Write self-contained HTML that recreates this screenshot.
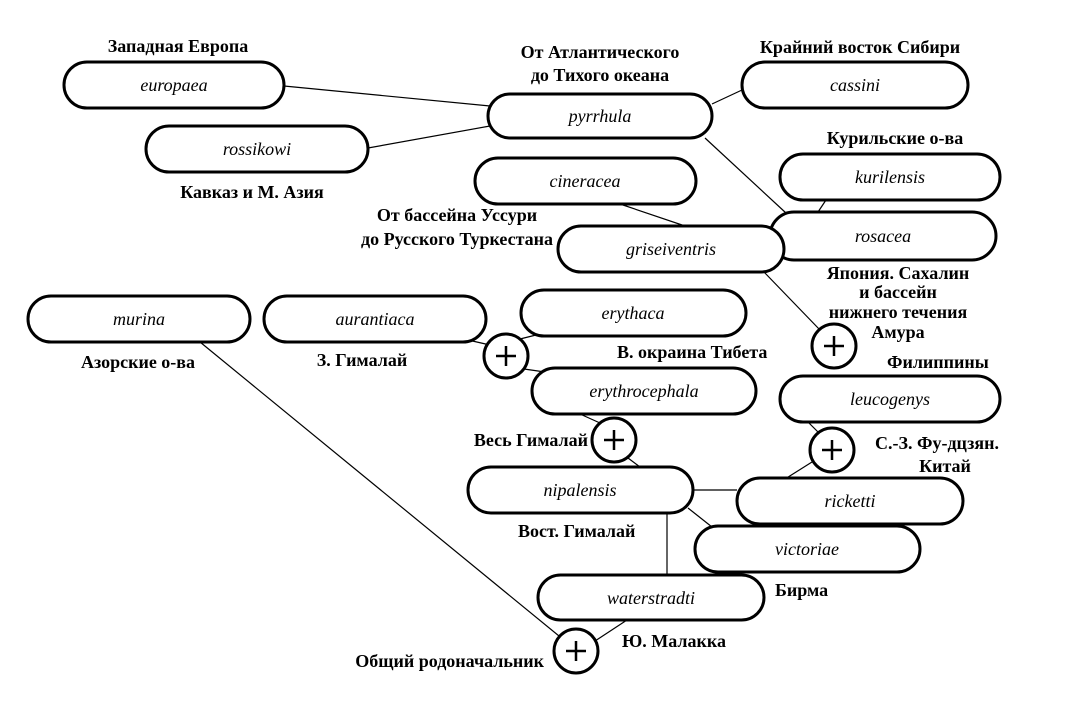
<!DOCTYPE html>
<html><head><meta charset="utf-8"><style>body{margin:0;background:#fff}svg{display:block}</style></head>
<body>
<svg width="1069" height="709" viewBox="0 0 1069 709" xmlns="http://www.w3.org/2000/svg" font-family="Liberation Serif, serif">
<g stroke="#000" stroke-width="1.2" fill="none">
<line x1="284" y1="86" x2="490" y2="106"/>
<line x1="368" y1="148" x2="490" y2="126"/>
<line x1="712" y1="104" x2="742" y2="90"/>
<line x1="705" y1="138" x2="786" y2="213"/>
<line x1="620" y1="204" x2="688" y2="227"/>
<line x1="826" y1="200" x2="818" y2="212"/>
<line x1="764" y1="272" x2="820" y2="330"/>
<line x1="468" y1="340" x2="490" y2="345"/>
<line x1="520" y1="339" x2="540" y2="334"/>
<line x1="524" y1="369" x2="545" y2="372"/>
<line x1="580" y1="414" x2="600" y2="423"/>
<line x1="628" y1="458" x2="640" y2="467"/>
<line x1="808" y1="422" x2="818" y2="432"/>
<line x1="812" y1="462" x2="785" y2="479"/>
<line x1="693" y1="490" x2="737" y2="490"/>
<line x1="688" y1="508" x2="712" y2="527"/>
<line x1="667" y1="513" x2="667" y2="575"/>
<line x1="627" y1="620" x2="592" y2="643"/>
<line x1="200" y1="342" x2="559" y2="636"/>
</g>
<g stroke="#000" stroke-width="3" fill="#fff">
<rect x="64" y="62" width="220" height="46" rx="23"/>
<rect x="146" y="126" width="222" height="46" rx="23"/>
<rect x="488" y="94" width="224" height="44" rx="22"/>
<rect x="742" y="62" width="226" height="46" rx="23"/>
<rect x="475" y="158" width="221" height="46" rx="23"/>
<rect x="780" y="154" width="220" height="46" rx="23"/>
<rect x="770" y="212" width="226" height="48" rx="24"/>
<rect x="558" y="226" width="226" height="46" rx="23"/>
<rect x="28" y="296" width="222" height="46" rx="23"/>
<rect x="264" y="296" width="222" height="46" rx="23"/>
<rect x="521" y="290" width="225" height="46" rx="23"/>
<rect x="532" y="368" width="224" height="46" rx="23"/>
<rect x="780" y="376" width="220" height="46" rx="23"/>
<rect x="468" y="467" width="225" height="46" rx="23"/>
<rect x="737" y="478" width="226" height="46" rx="23"/>
<rect x="695" y="526" width="225" height="46" rx="23"/>
<rect x="538" y="575" width="226" height="45" rx="22.5"/>
<circle cx="506" cy="356" r="22"/>
<circle cx="614" cy="440" r="22"/>
<circle cx="834" cy="346" r="22"/>
<circle cx="832" cy="450" r="22"/>
<circle cx="576" cy="651" r="22"/>
</g>
<g stroke="#000" stroke-width="2.5">
<path d="M496 356h20M506 346v20"/>
<path d="M604 440h20M614 430v20"/>
<path d="M824 346h20M834 336v20"/>
<path d="M822 450h20M832 440v20"/>
<path d="M566 651h20M576 641v20"/>
</g>
<g font-style="italic" font-size="18" text-anchor="middle">
<text x="174" y="91">europaea</text>
<text x="257" y="155">rossikowi</text>
<text x="600" y="122">pyrrhula</text>
<text x="855" y="91">cassini</text>
<text x="585" y="187">cineracea</text>
<text x="890" y="183">kurilensis</text>
<text x="883" y="242">rosacea</text>
<text x="671" y="255">griseiventris</text>
<text x="139" y="325">murina</text>
<text x="375" y="325">aurantiaca</text>
<text x="633" y="319">erythaca</text>
<text x="644" y="397">erythrocephala</text>
<text x="890" y="405">leucogenys</text>
<text x="580" y="496">nipalensis</text>
<text x="850" y="507">ricketti</text>
<text x="807" y="555">victoriae</text>
<text x="651" y="604">waterstradti</text>
</g>
<g font-size="18" font-weight="bold" text-anchor="middle">
<text x="178" y="52">Западная Европа</text>
<text x="600" y="58">От Атлантического</text>
<text x="600" y="81">до Тихого океана</text>
<text x="860" y="53">Крайний восток Сибири</text>
<text x="252" y="198">Кавказ и М. Азия</text>
<text x="895" y="144">Курильские о-ва</text>
<text x="457" y="221">От бассейна Уссури</text>
<text x="457" y="245">до Русского Туркестана</text>
<text x="898" y="279">Япония. Сахалин</text>
<text x="898" y="298">и бассейн</text>
<text x="898" y="318">нижнего течения</text>
<text x="898" y="338">Амура</text>
<text x="138" y="368">Азорские о-ва</text>
<text x="362" y="366">З. Гималай</text>
<text x="937" y="449">С.-З. Фу-дцзян.</text>
<text x="945" y="472">Китай</text>
</g>
<g font-size="18" font-weight="bold">
<text x="617" y="358">В. окраина Тибета</text>
<text x="887" y="368">Филиппины</text>
<text x="588" y="446" text-anchor="end">Весь Гималай</text>
<text x="518" y="537">Вост. Гималай</text>
<text x="775" y="596">Бирма</text>
<text x="622" y="647">Ю. Малакка</text>
<text x="544" y="667" text-anchor="end">Общий родоначальник</text>
</g>
</svg>
</body></html>
